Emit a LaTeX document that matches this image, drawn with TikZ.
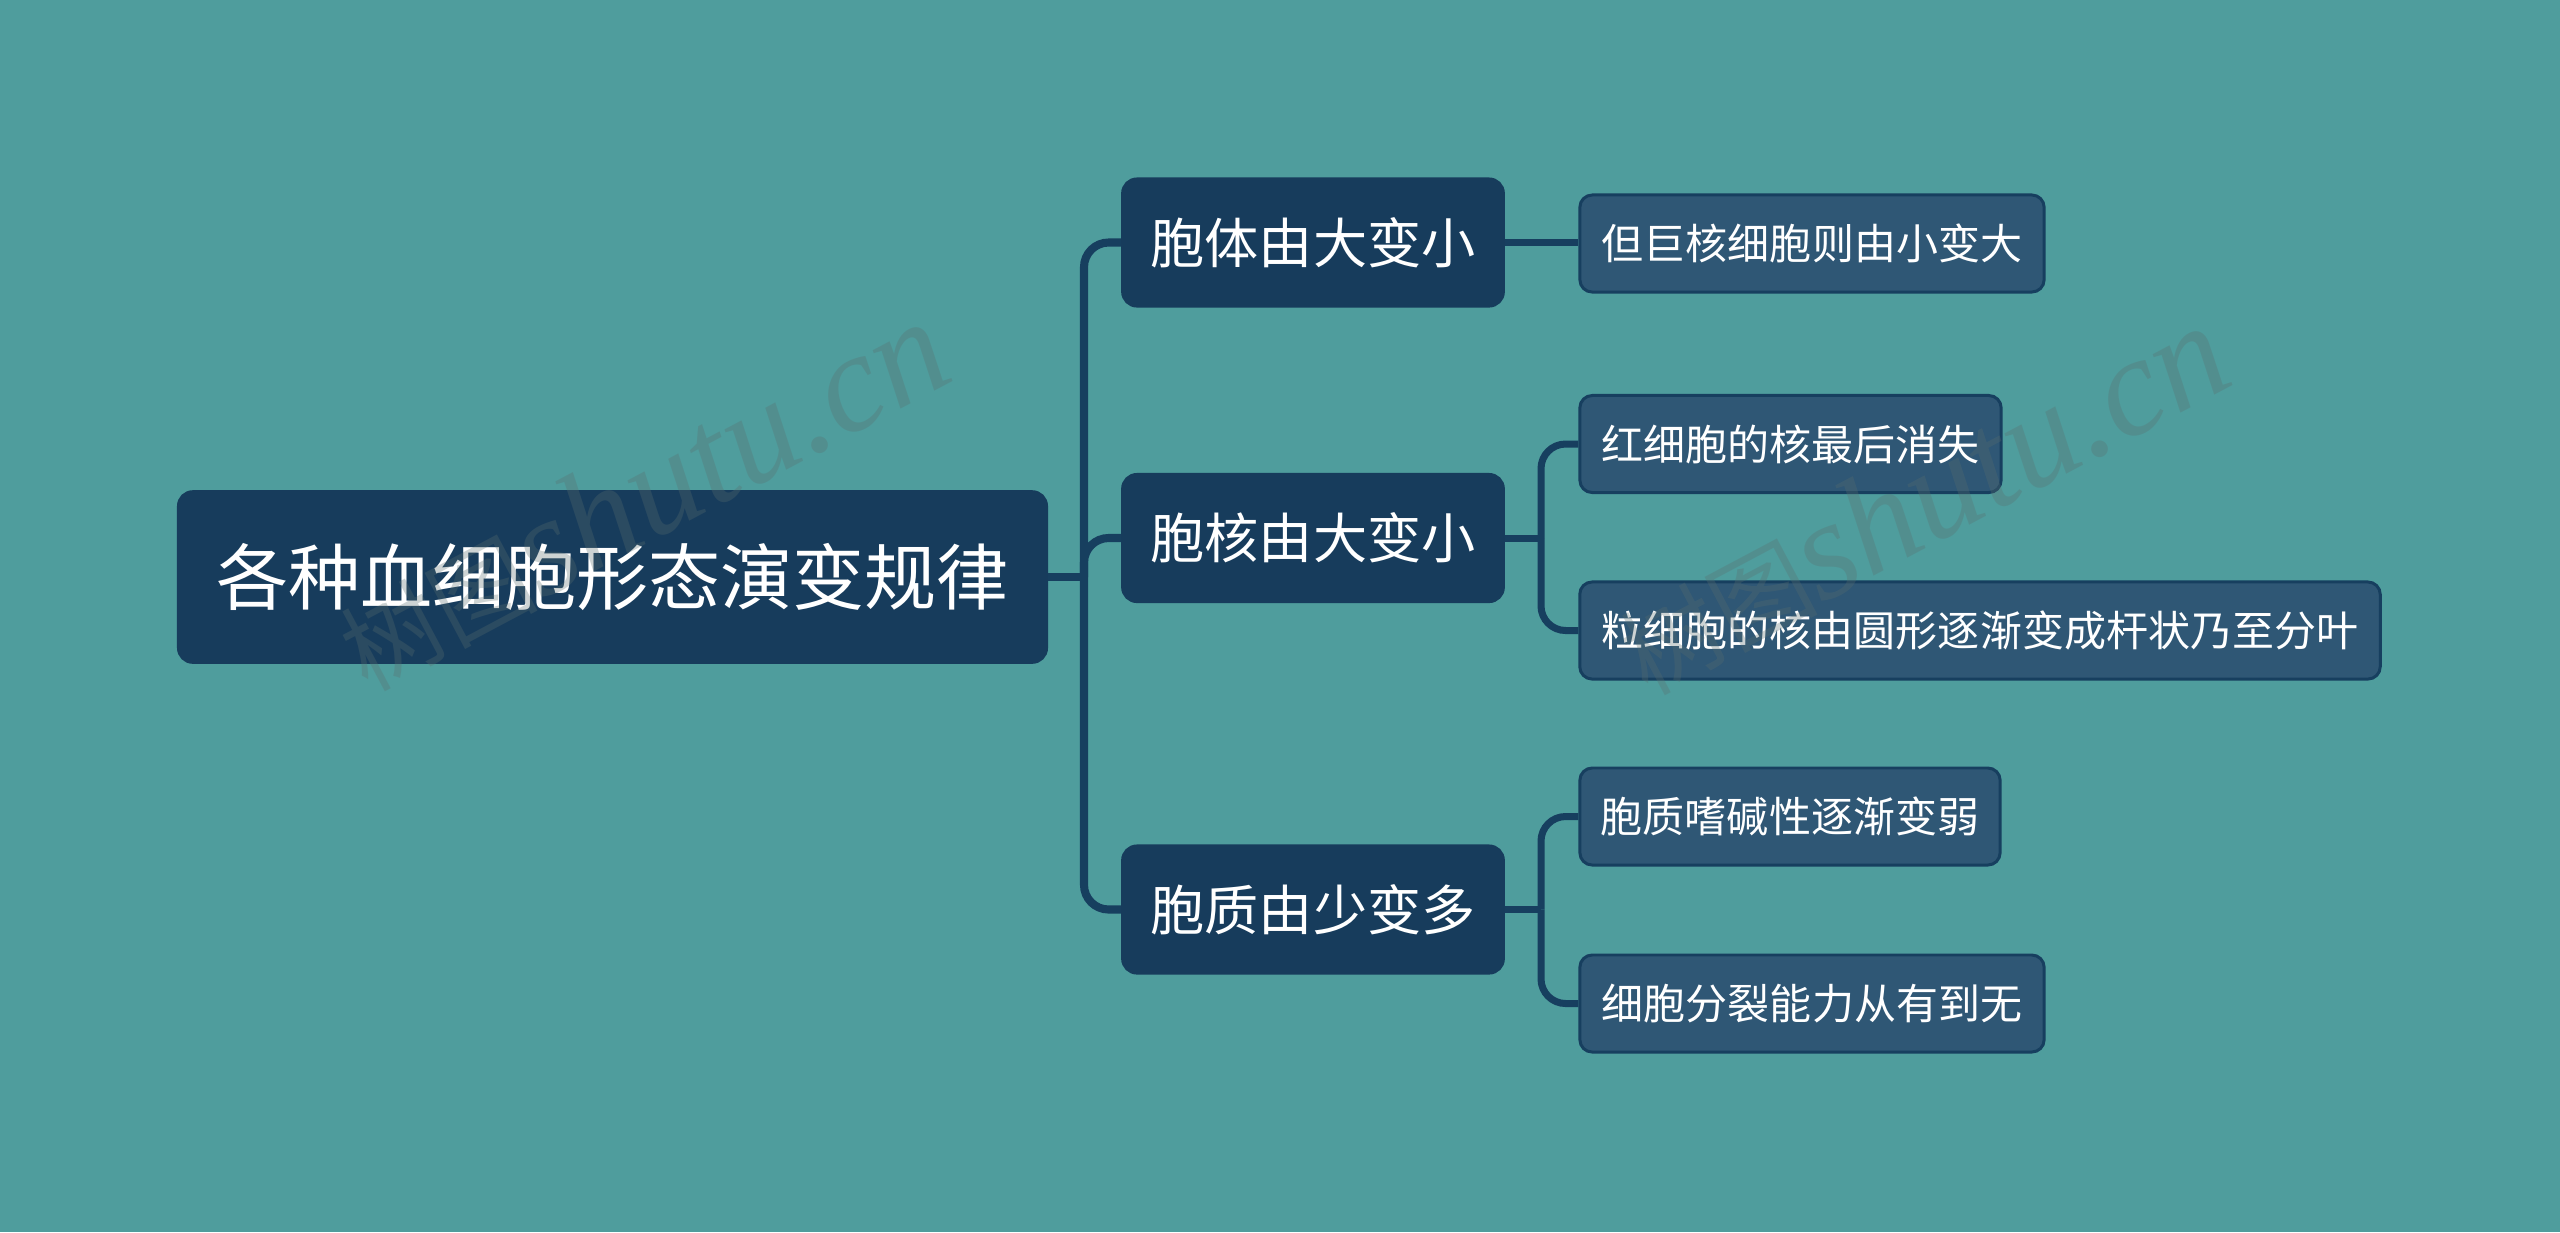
\documentclass[tikz,border=0pt]{standalone}
\usepackage{fontspec}
\setmainfont{Noto Sans CJK SC}
\newfontfamily\wmlatin{Liberation Serif}
\newfontfamily\wmcjk{Noto Sans CJK SC}
\definecolor{bgteal}{HTML}{4F9D9D}
\definecolor{navy}{HTML}{173C5C}
\definecolor{leaffill}{HTML}{2F5775}
\definecolor{linecol}{HTML}{173F5F}
\definecolor{wmcol}{HTML}{5A6E6E}
\tikzset{
  rootbox/.style={fill=navy, draw=navy, line width=1pt, rounded corners=4pt,
    inner sep=0pt, text=white, align=center, font=\fontsize{20.5pt}{25pt}\selectfont},
  mainbox/.style={fill=navy, draw=navy, line width=1pt, rounded corners=4pt,
    inner sep=0pt, text=white, align=center, minimum width=3.8cm, minimum height=1.265cm,
    font=\fontsize{15.4pt}{18pt}\selectfont},
  leafbox/.style={fill=leaffill, draw=linecol, line width=0.85pt, rounded corners=3.5pt,
    inner sep=0pt, text=white, align=center, minimum height=0.97cm,
    font=\fontsize{11.95pt}{14pt}\selectfont},
  trunk/.style={draw=linecol, line width=2.3pt, rounded corners=7pt},
  branch/.style={draw=linecol, line width=2pt, rounded corners=7pt},
  watermark/.style={text=wmcol, opacity=0.3, rotate=28, inner sep=0pt}
}
\begin{document}
\begin{tikzpicture}[x=0.01cm, y=-0.01cm]
\fill[bgteal] (0,0) rectangle (2560,1232);
\useasboundingbox (0,0) rectangle (2560,1232);

% nodes
\node[rootbox, minimum width=8.67cm, minimum height=1.70cm] (root) at (612.5,577) {各种血细胞形态演变规律};
\node[mainbox] (n1) at (1313,242.5) {胞体由大变小};
\node[mainbox] (n2) at (1313,538) {胞核由大变小};
\node[mainbox] (n3) at (1313,909.5) {胞质由少变多};

\node[leafbox, minimum width=4.64cm] (l1) at (1812,243.5) {但巨核细胞则由小变大};
\node[leafbox, minimum width=4.21cm] (l2a) at (1790.5,444) {红细胞的核最后消失};
\node[leafbox, minimum width=8.00cm] (l2b) at (1980,630.5) {粒细胞的核由圆形逐渐变成杆状乃至分叶};
\node[leafbox, minimum width=4.20cm] (l3a) at (1790,816.5) {胞质嗜碱性逐渐变弱};
\node[leafbox, minimum width=4.64cm] (l3b) at (1812,1003.5) {细胞分裂能力从有到无};

% junctions
\coordinate (j0) at (1084,577);
\coordinate (j2) at (1541,538);
\coordinate (j3) at (1541,909.5);

% connectors
\draw[trunk] (root.east) -- (j0);
\draw[trunk] (j0) |- (n1.west);
\draw[trunk] (j0) |- (n2.west);
\draw[trunk] (j0) |- (n3.west);

\draw[branch] (n1.east) -- (n1.east -| l1.west);
\draw[branch] (n2.east) -- (j2);
\draw[branch] (j2) |- (l2a.west);
\draw[branch] (j2) |- (l2b.west);
\draw[branch] (n3.east) -- (j3);
\draw[branch] (j3) |- (l3a.west);
\draw[branch] (j3) |- (l3b.west);

% watermarks
\node[watermark] (wm1) at (642,496) {\wmcjk\fontsize{28pt}{32pt}\selectfont 树图\wmlatin\itshape\fontsize{40pt}{44pt}\selectfont shutu.cn};
\node[watermark] (wm2) at (1922,500) {\wmcjk\fontsize{28pt}{32pt}\selectfont 树图\wmlatin\itshape\fontsize{40pt}{44pt}\selectfont shutu.cn};
\end{tikzpicture}
\end{document}
